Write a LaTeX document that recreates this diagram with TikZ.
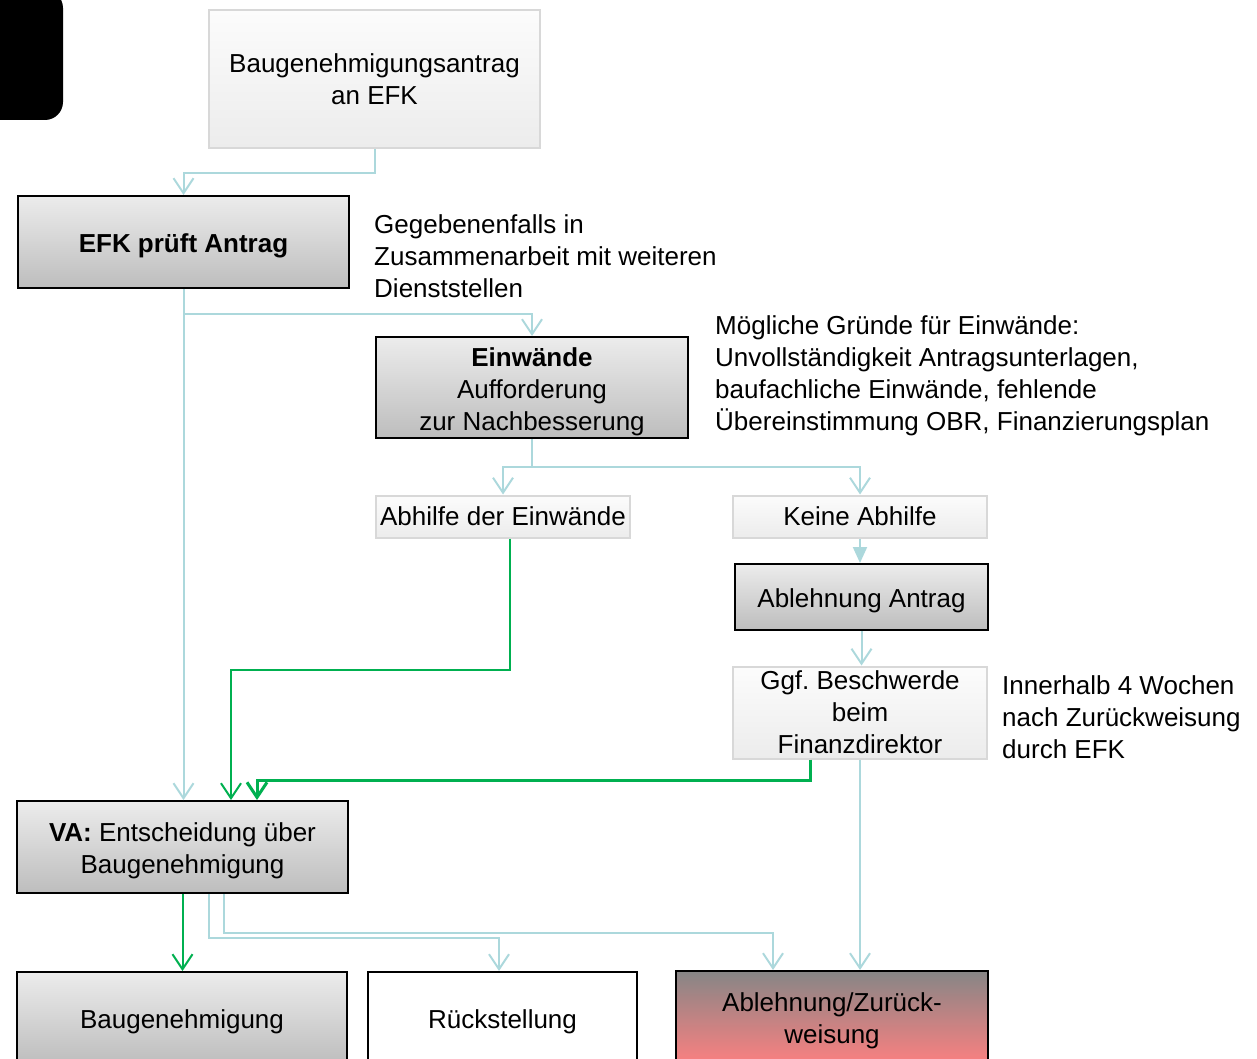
\documentclass[tikz,border=0pt]{standalone}
\usepackage{fontspec}
\setmainfont{Liberation Sans}
\usetikzlibrary{arrows.meta}

\definecolor{linkblue}{RGB}{172,216,220}
\definecolor{okgreen}{RGB}{0,176,80}
\definecolor{graytop}{RGB}{236,236,236}
\definecolor{graybot}{RGB}{189,189,189}
\definecolor{paletop}{RGB}{252,252,252}
\definecolor{palebot}{RGB}{236,236,236}
\definecolor{paleline}{RGB}{216,216,216}
\definecolor{redtop}{RGB}{134,134,134}
\definecolor{redbot}{RGB}{250,128,128}

% strut that pushes the text of the dark boxes a bit down
\newcommand{\lift}{\rule{0pt}{27pt}}

\tikzset{
  txt/.style={font=\fontsize{26}{32}\selectfont},
  graybox/.style={txt, draw=black, line width=2pt, top color=graytop, bottom color=graybot, inner sep=0pt, align=center},
  palebox/.style={txt, draw=paleline, line width=2pt, top color=paletop, bottom color=palebot, inner sep=0pt, align=center},
  plainbox/.style={txt, draw=black, line width=2pt, fill=white, inner sep=0pt, align=center},
  redbox/.style={txt, draw=black, line width=2pt, top color=redtop, bottom color=redbot, inner sep=0pt, align=center},
  note/.style={txt, inner sep=0pt, align=left, anchor=west},
  link/.style={draw=linkblue, line width=2pt, -{Straight Barb[length=15pt,width=20pt]}},
  okline/.style={draw=okgreen, line width=2pt, -{Straight Barb[length=15pt,width=20pt]}}
}

\begin{document}
\begin{tikzpicture}[x=1pt, y=-1pt]

\path [use as bounding box] (0,0) rectangle (1257,1059);

% CORNER MARK
\fill [black, rounded corners=18pt] (-40,-10) rectangle (63,120);

% BOXES
\node [palebox, minimum width=331pt, minimum height=138pt] (antrag) at (374.5,79) {Baugenehmigungsantrag\\an EFK};
\node [graybox, minimum width=331pt, minimum height=92pt] (pruef) at (183.5,242) {\lift\textbf{EFK prüft Antrag}};
\node [graybox, minimum width=312pt, minimum height=101pt] (einwand) at (532,387.5) {\lift\textbf{Einwände}\\Aufforderung\\zur Nachbesserung};
\node [palebox, minimum width=254pt, minimum height=42pt] (abhilfe) at (503,516.5) {Abhilfe der Einwände};
\node [palebox, minimum width=254pt, minimum height=42pt] (keine) at (860,516.5) {Keine Abhilfe};
\node [graybox, minimum width=253pt, minimum height=66pt] (ablehnung) at (861.5,597) {\lift Ablehnung Antrag};
\node [palebox, minimum width=254pt, minimum height=92pt] (beschwerde) at (860,712.5) {Ggf.\ Beschwerde\\beim\\Finanzdirektor};
\node [graybox, minimum width=331pt, minimum height=92pt] (va) at (182.5,847) {\lift\textbf{VA:} Entscheidung über\\Baugenehmigung};
\node [graybox, minimum width=330pt, minimum height=92pt] (genehmigt) at (182,1018) {\lift Baugenehmigung};
\node [plainbox, minimum width=269pt, minimum height=92pt] (rueck) at (502.5,1018) {\lift Rückstellung};
\node [redbox, minimum width=312pt, minimum height=92pt] (zurueck) at (832,1017) {\lift Ablehnung/Zurück-\\weisung};

% NOTES
\node [note] (hinweis) at (374,256) {Gegebenenfalls in\\Zusammenarbeit mit weiteren\\Dienststellen};
\node [note] (gruende) at (715,376) {Mögliche Gründe für Einwände:\\Unvollständigkeit Antragsunterlagen,\\baufachliche Einwände, fehlende\\Übereinstimmung OBR, Finanzierungsplan};
\node [note] (frist) at (1002,717) {Innerhalb 4 Wochen\\nach Zurückweisung\\durch EFK};

% LINKS
\draw [link] (antrag.south) -- ++(0,24) -| (pruef.north);
\draw [link] (pruef.south) -- ++(0,25) -| (einwand.north);
\draw [link] (pruef.south) -- (pruef.south |- va.north);
\draw [link] (einwand.south) -- ++(0,28) -| (abhilfe.north);
\draw [link] (einwand.south) -- ++(0,28) -| (keine.north);
\draw [link, -{Triangle[length=16pt,width=14pt]}] (keine.south) -- (keine.south |- ablehnung.north);
\draw [link] (ablehnung.south) -- (ablehnung.south |- beschwerde.north);
\draw [link] (beschwerde.south) -- (beschwerde.south |- zurueck.north);
\draw [link] ([xshift=26.5pt]va.south) -- ++(0,44) -| ([xshift=-3.5pt]rueck.north);
\draw [link] ([xshift=41.5pt]va.south) -- ++(0,39) -| ([xshift=-59pt]zurueck.north);

% GREEN LINKS
\draw [okline] ([xshift=7pt]abhilfe.south) -- ++(0,131) -| ([xshift=48.5pt]va.north);
\draw [okline, line width=3pt] ([xshift=-50pt]beschwerde.south) -- ++(0,21) -| ([xshift=74.5pt]va.north);
\draw [okline] (va.south) -- (va.south |- genehmigt.north);

\end{tikzpicture}
\end{document}
